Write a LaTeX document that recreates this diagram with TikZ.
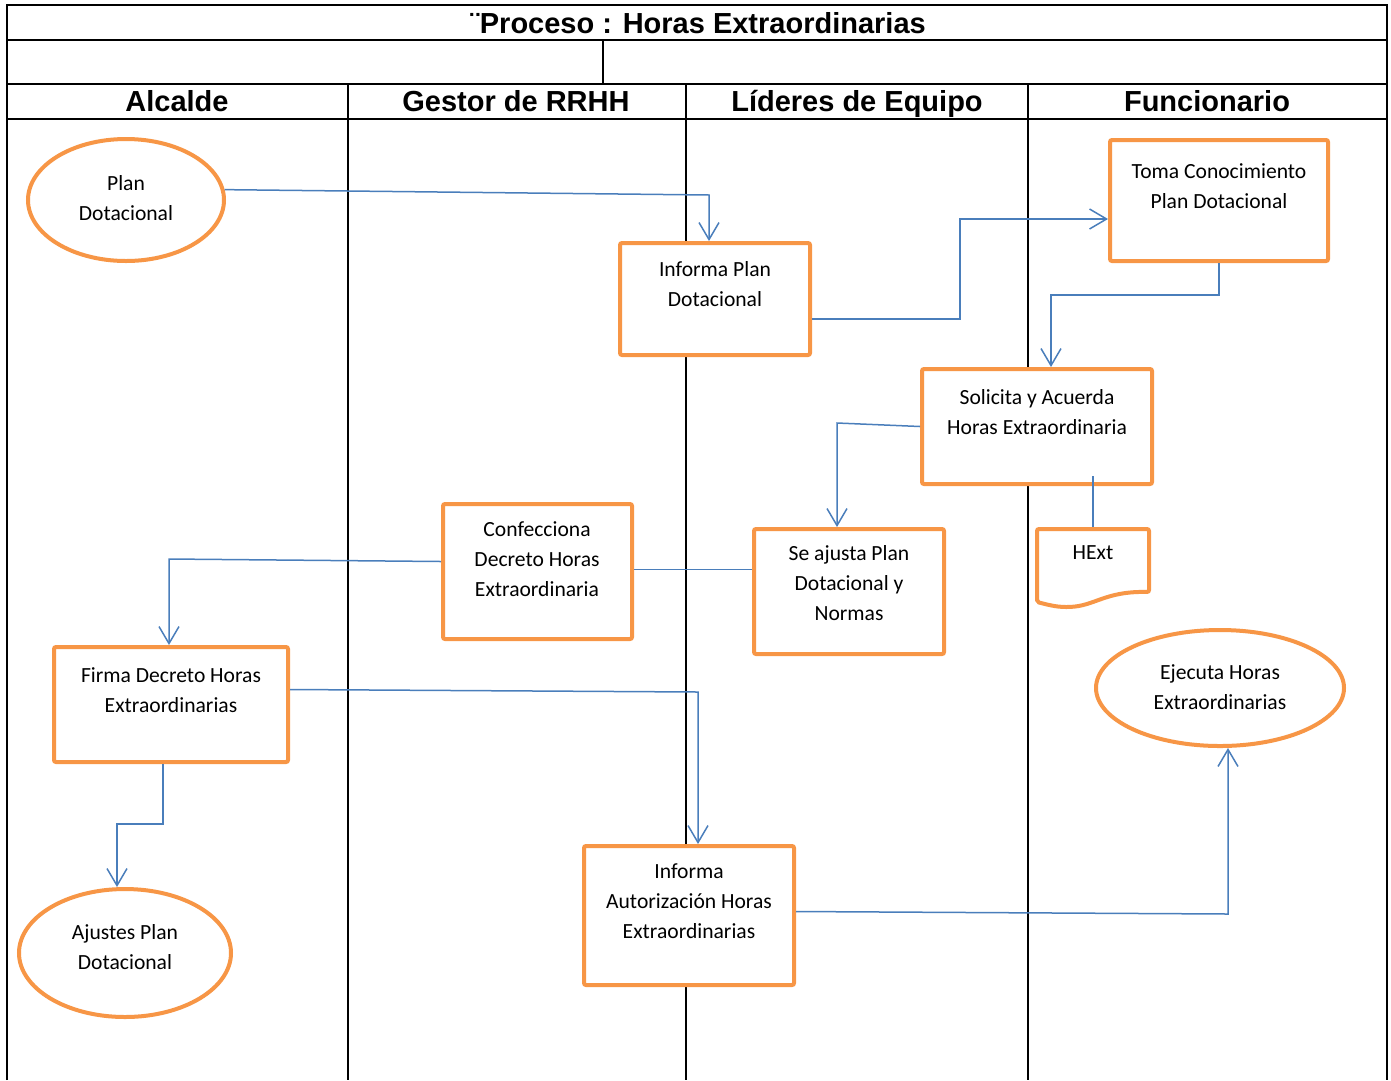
\documentclass[tikz,border=0pt]{standalone}
\usepackage{fontspec}
\setmainfont{Carlito}
\newfontfamily\headfont{Liberation Sans}
\usetikzlibrary{shapes.geometric,arrows.meta,calc}
\definecolor{orng}{HTML}{F79646}
\definecolor{blu}{HTML}{4A7EBB}
\tikzset{
  frameline/.style={line width=2pt,black},
  procbox/.style={draw=orng,line width=4pt,fill=white,rectangle,rounded corners=2pt,inner sep=0pt},
  termnode/.style={draw=orng,line width=4pt,fill=white,ellipse,inner sep=0pt},
  txt/.style={align=center,inner sep=0pt,font=\fontsize{21.6}{30}\selectfont},
  head/.style={inner sep=0pt,text height=20pt,text depth=0pt,font=\headfont\bfseries\fontsize{29}{30}\selectfont},
  conn/.style={draw=blu,line width=1.5pt,-{Straight Barb[length=17pt,width=20pt,line width=1.5pt]}},
  plainconn/.style={draw=blu,line width=1.5pt}
}
\begin{document}
\begin{tikzpicture}[x=1pt,y=-1pt]
\useasboundingbox (0,0) rectangle (1391,1080);
% frame and lanes
\draw[frameline] (7,1080) -- (7,5) -- (1387,5) -- (1387,1080);
\draw[frameline] (7,40) -- (1387,40);
\draw[frameline] (7,84) -- (1387,84);
\draw[frameline] (7,119) -- (1387,119);
\draw[frameline] (603,40) -- (603,84);
\draw[frameline] (348,84) -- (348,1080);
\draw[frameline] (686,84) -- (686,1080);
\draw[frameline] (1028,84) -- (1028,1080);
% headings
\node[head] (title) at (698,23) {¨Proceso : Horas Extraordinarias};
\node[head] (h1) at (177,101) {Alcalde};
\node[head] (h2) at (516,101) {Gestor de RRHH};
\node[head] (h3) at (857,101) {Líderes de Equipo};
\node[head] (h4) at (1207,101) {Funcionario};
% shapes
\node[termnode,minimum width=196pt,minimum height=122pt] (plan) at (126,200) {};
\node[procbox,minimum width=190pt,minimum height=112pt] (inf) at (715,299) {};
\node[procbox,minimum width=218pt,minimum height=121pt] (toma) at (1219,200.5) {};
\node[procbox,minimum width=230pt,minimum height=115pt] (sol) at (1037,426.5) {};
\node[procbox,minimum width=189pt,minimum height=135pt] (conf) at (537.5,571.5) {};
\node[procbox,minimum width=190pt,minimum height=125pt] (aju) at (849,591.5) {};
\node[procbox,minimum width=234pt,minimum height=115pt] (firma) at (171,704.5) {};
\node[procbox,minimum width=210pt,minimum height=139pt] (ia) at (689,915.5) {};
\node[termnode,minimum width=248pt,minimum height=116pt] (eje) at (1220,688) {};
\node[termnode,minimum width=212pt,minimum height=128pt] (ajus) at (125,953) {};
% document shape
\draw[draw=orng,line width=4pt,fill=white,rounded corners=2pt]
  (1037,529) -- (1149,529) -- (1149,592)
  .. controls (1105,591) and (1095,606) .. (1068,607)
  .. controls (1055,607) and (1045,604) .. (1037,602) -- cycle;
% texts
\node[txt] (tplan) at (126,198) {Plan\\Dotacional};
\node[txt] (tinf) at (715,284) {Informa Plan\\Dotacional};
\node[txt] (ttoma) at (1219,186) {Toma Conocimiento\\Plan Dotacional};
\node[txt] (tsol) at (1037,412) {Solicita y Acuerda\\Horas Extraordinaria};
\node[txt] (tconf) at (537,559) {Confecciona\\Decreto Horas\\Extraordinaria};
\node[txt] (taju) at (849,583) {Se ajusta Plan\\Dotacional y\\Normas};
\node[txt] (hext) at (1093,553) {HExt};
\node[txt] (teje) at (1220,687) {Ejecuta Horas\\Extraordinarias};
\node[txt] (tfirma) at (171,690) {Firma Decreto Horas\\Extraordinarias};
\node[txt] (tajus) at (125,947) {Ajustes Plan\\Dotacional};
\node[txt] (tia) at (689,901) {Informa\\Autorización Horas\\Extraordinarias};
% bend coordinates
\coordinate (c1) at (709,195);
\coordinate (c2) at (960,219);
\coordinate (c3) at (1051,295);
\coordinate (c4) at (837,423);
\coordinate (hexttop) at (1093,527);
\coordinate (c7) at (169,559);
\coordinate (c8) at (698,692);
\coordinate (c9) at (117,824);
\coordinate (c10) at (1228,914);
% connectors
\draw[conn] (plan.6) -- (c1) -- (c1 |- inf.north);
\draw[conn] ($(inf.east)+(0,20)$) -| (c2) -- (c2 -| toma.west);
\draw[conn] (toma.south) |- (c3) -- (c3 |- sol.north);
\draw[conn] (sol.west) -- (c4) -- (c4 |- aju.north);
\draw[plainconn] ($(sol.south -| hexttop)+(0,-10)$) -- (hexttop);
\draw[plainconn] ($(conf.east)+(0,-2)$) -- ($(conf.east -| aju.west)+(0,-2)$);
\draw[conn] ($(conf.west)+(0,-10)$) -- (c7) -- (c7 |- firma.north);
\draw[conn] ($(firma.east)+(0,-15)$) -- (c8) -- (c8 |- ia.north);
\draw[conn] ($(firma.south)+(-8,0)$) |- (c9) -- (c9 |- ajus.north);
\draw[conn] ($(ia.east)+(0,-4)$) -- (c10) -- (c10 |- eje.south);
\end{tikzpicture}
\end{document}
